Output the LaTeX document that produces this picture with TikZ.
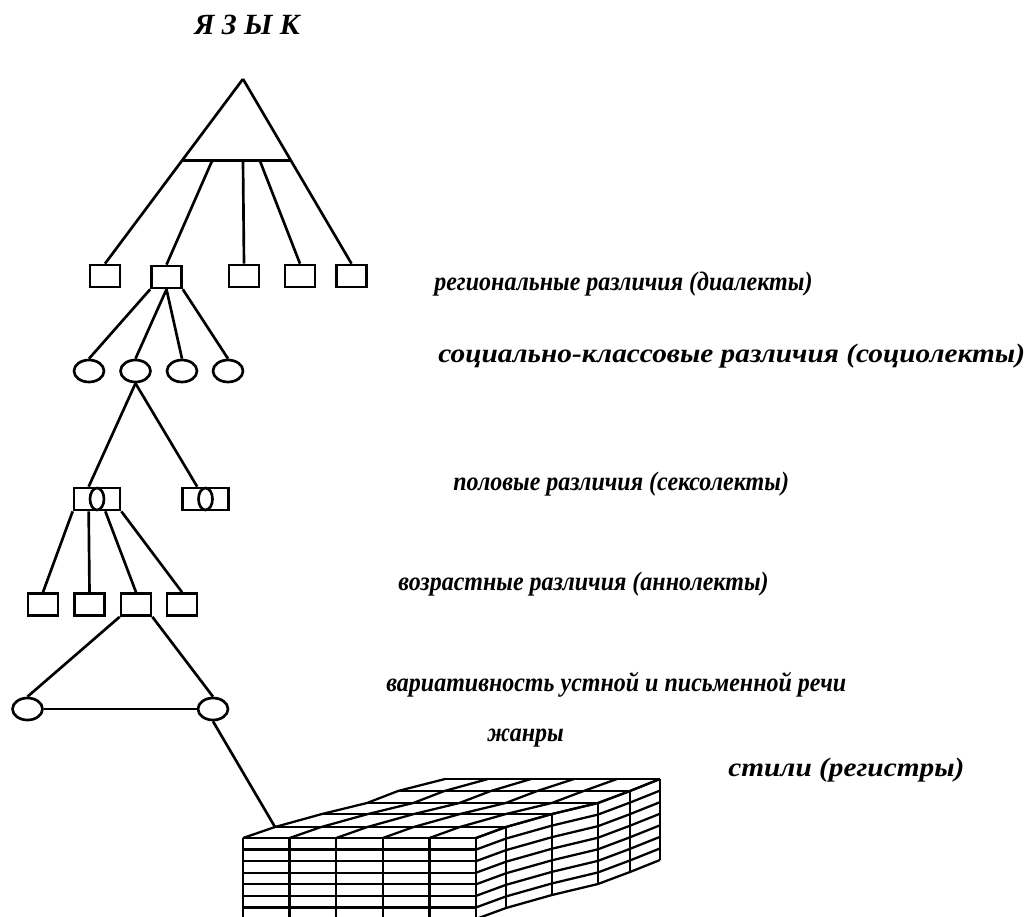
\documentclass[tikz,border=0pt]{standalone}
\usepackage{fontspec}
\setmainfont{Liberation Serif}
\newfontfamily\lblfont[FakeStretch=0.9]{Liberation Serif}
\newfontfamily\widefont[FakeStretch=1.1]{Liberation Serif}
\usetikzlibrary{shapes.geometric,calc}
\begin{document}
\begin{tikzpicture}[x=0.75pt,y=-0.75pt, line width=2pt,
  box/.style={draw, rectangle, minimum width=22.5pt, minimum height=16.5pt, inner sep=0pt},
  oval/.style={draw, ellipse, minimum width=22.5pt, minimum height=16.5pt, inner sep=0pt},
  sbox/.style={draw, rectangle, minimum width=34.5pt, minimum height=16.5pt, inner sep=0pt},
  sin/.style={draw, ellipse, minimum width=10.5pt, minimum height=16.5pt, inner sep=0pt},
  lbl/.style={font=\lblfont\fontsize{20pt}{22pt}\selectfont\bfseries\itshape, anchor=base west, inner sep=0pt},
  wlbl/.style={font=\widefont\fontsize{20pt}{22pt}\selectfont\bfseries\itshape, anchor=base west, inner sep=0pt},
  ttl/.style={font=\fontsize{22pt}{24pt}\selectfont\bfseries\itshape, anchor=base west, inner sep=0pt},
  gridline/.style={line width=1.7pt}]
\useasboundingbox (0,0) rectangle (1028,917);
\clip (0,0) rectangle (1028,917);

% title
\node[ttl] (title) at (193,35) {Я З Ы К};

% top triangle
\coordinate (apex) at (243,79);
\node[box] (r1) at (105,276) {};
\node[box] (r2) at (166.5,277) {};
\node[box] (r3) at (244,276) {};
\node[box] (r4) at (300,276) {};
\node[box] (r5) at (351.5,276) {};
\path (apex) -- (r1.north) coordinate[pos=0.443] (tl);
\path (apex) -- (r5.north) coordinate[pos=0.443] (tr);
\coordinate (b2) at (212,161);
\coordinate (b3) at (243,161);
\coordinate (b4) at (260,161);
\draw (apex) -- (r1.north);
\draw (apex) -- (r5.north);
\draw (tl) -- (tr);
\draw (b2) -- (r2.north);
\draw (b3) -- (r3.north);
\draw (b4) -- (r4.north);

% sociolects
\node[oval] (o1) at (89,371) {};
\node[oval] (o2) at (135.5,371) {};
\node[oval] (o3) at (182,371) {};
\node[oval] (o4) at (228,371) {};
\draw (r2.south west) -- (o1.north);
\draw (r2.south) -- (o2.north);
\draw (r2.south) -- (o3.north);
\draw (r2.south east) -- (o4.north);

% sexolects
\node[sbox] (s1) at (97,499) {};
\node[sin] (s1e) at (s1.center) {};
\node[sbox] (s2) at (205.5,499) {};
\node[sin] (s2e) at (s2.center) {};
\draw (o2.south) -- (s1e.west |- s1.north);
\draw (o2.south) -- (s2e.west |- s2.north);

% age
\node[box] (a1) at (43,604.5) {};
\node[box] (a2) at (89.5,604.5) {};
\node[box] (a3) at (136,604.5) {};
\node[box] (a4) at (182,604.5) {};
\draw (s1.south west) -- (a1.north);
\draw (s1e.west |- s1.south) -- (a2.north);
\draw (s1e.east |- s1.south) -- (a3.north);
\draw (s1.south east) -- (a4.north);

% oral / written
\node[oval] (o5) at (27.5,709) {};
\node[oval] (o6) at (213,709) {};
\draw (a3.south west) -- (o5.north);
\draw (a3.south east) -- (o6.north);
\draw (o5.east) -- (o6.west);

% cube
\coordinate (cube) at (275,827);
\draw (o6.south) -- (cube);
\begin{scope}[gridline]
  % front face
  \foreach \c in {0,...,5} \draw (243+46.6*\c,838) -- (243+46.6*\c,919);
  \foreach \r in {0,...,7} \draw (243,838+11.57*\r) -- (476,838+11.57*\r);
  % depth slabs: left offset / right offset / vertical offset
  \foreach \lx/\rx/\dy in {32/30/-11, 79/76/-24, 124/122/-35, 155/154/-47, 202/184/-59} {
    \draw (243+\lx,838+\dy) -- (476+\rx,838+\dy);
    \draw (476+\rx,838+\dy) -- (476+\rx,919+\dy);
  }
  % top face diagonals
  \foreach \c in {0,...,5}
    \draw (243+46.6*\c,838)
      -- ({243+32+\c*(233+30-32)/5},827)
      -- ({243+79+\c*(233+76-79)/5},814)
      -- ({243+124+\c*(233+122-124)/5},803)
      -- ({243+155+\c*(233+154-155)/5},791)
      -- ({243+202+\c*(233+184-202)/5},779);
  % right face diagonals
  \foreach \r in {0,...,7}
    \draw (476,838+11.57*\r) -- (506,827+11.57*\r) -- (552,814+11.57*\r)
      -- (598,803+11.57*\r) -- (630,791+11.57*\r) -- (660,779+11.57*\r);
\end{scope}

% labels
\node[lbl] (l1) at (433,290) {региональные различия (диалекты)};
\node[wlbl] (l2) at (437,362) {социально-классовые различия (социолекты)};
\node[lbl] (l3) at (452,490) {половые различия (сексолекты)};
\node[lbl] (l4) at (397,590) {возрастные различия (аннолекты)};
\node[lbl] (l5) at (385,691) {вариативность устной и письменной речи};
\node[lbl] (l6) at (486,741) {жанры};
\node[wlbl] (l7) at (727,776) {стили (регистры)};
\end{tikzpicture}
\end{document}
